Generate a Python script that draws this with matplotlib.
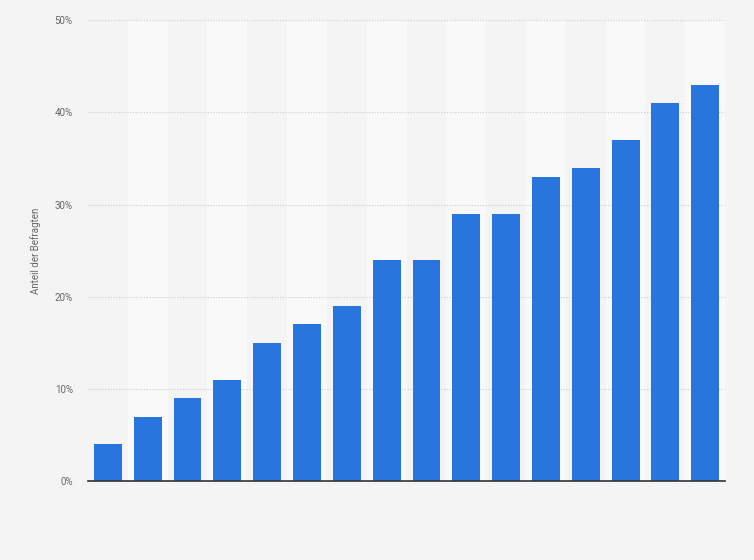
import matplotlib.pyplot as plt
from matplotlib.ticker import FuncFormatter

plt.rcParams['font.family'] = ['Roboto', 'DejaVu Sans']

# Share of respondents per category (16 unlabeled bars)
positions = list(range(16))
values = [4, 7, 9, 11, 15, 17, 19, 24, 24, 29, 29, 33, 34, 37, 41, 43]
y_ticks = [0, 10, 20, 30, 40, 50]

fig = plt.figure(figsize=(7.54, 5.6), dpi=100)
fig.patch.set_facecolor('#f4f4f4')
ax = fig.add_axes([0.1167, 0.141, 0.845, 0.823])
ax.set_facecolor('#f4f4f4')

# alternating column bands
for i in positions:
    if i % 2 == 1:
        ax.axvspan(i - 0.5, i + 0.5, color='#f9f9f9', zorder=0, lw=0)

ax.bar(positions, values, width=0.7, color='#2876dd', zorder=3)

ax.set_xlim(-0.5, 15.5)
ax.set_ylim(0, 50)
ax.set_yticks(y_ticks)
ax.yaxis.set_major_formatter(FuncFormatter(lambda v, p: f'{v:.0f}%'))
ax.set_xticks([])
ax.tick_params(axis='y', length=0, labelsize=7, labelcolor='#666666', pad=11)
ax.grid(axis='y', linestyle=(0, (1, 1.5)), color='#cccccc', lw=0.8, zorder=1)

for side in ['top', 'right', 'left']:
    ax.spines[side].set_visible(False)
ax.spines['bottom'].set_color('#333333')
ax.spines['bottom'].set_linewidth(1.2)
ax.spines['bottom'].set_zorder(4)

ax.set_ylabel('Anteil der Befragten', fontsize=7, color='#666666', labelpad=10)

fig.savefig('out.png', dpi=100, facecolor=fig.get_facecolor())
